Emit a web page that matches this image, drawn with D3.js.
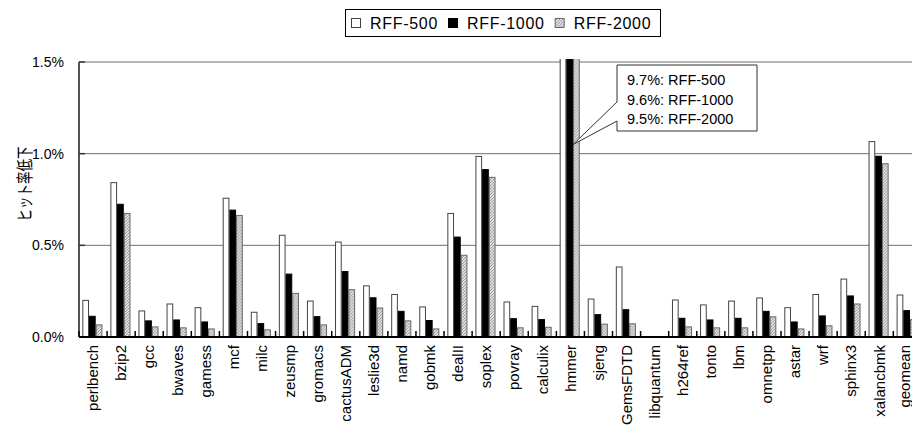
<!DOCTYPE html>
<html>
<head>
<meta charset="utf-8">
<script src="https://cdn.jsdelivr.net/npm/d3@7"></script>
<style>
  body { margin: 0; background: #fff; }
  text { font-family: "Liberation Sans", Arial, sans-serif; fill: #000; }
</style>
</head>
<body>
<div id="chart"></div>
<script>
const width = 912;
const height = 433;

// Data (percent).
const categories = ["perlbench", "bzip2", "gcc", "bwaves", "gamess", "mcf", "milc", "zeusmp",
  "gromacs", "cactusADM", "leslie3d", "namd", "gobmk", "dealII", "soplex", "povray", "calculix",
  "hmmer", "sjeng", "GemsFDTD", "libquantum", "h264ref", "tonto", "lbm", "omnetpp", "astar",
  "wrf", "sphinx3", "xalancbmk", "geomean"];
const seriesNames = ["RFF-500", "RFF-1000", "RFF-2000"];
const rff500 = [0.200, 0.842, 0.142, 0.180, 0.160, 0.757, 0.135, 0.555, 0.196, 0.518, 0.279, 0.232,
  0.164, 0.674, 0.985, 0.191, 0.167, 9.7, 0.207, 0.382, 0, 0.202, 0.175, 0.196, 0.213, 0.160,
  0.232, 0.316, 1.066, 0.229];
const rff1000 = [0.113, 0.724, 0.088, 0.093, 0.082, 0.692, 0.073, 0.343, 0.111, 0.357, 0.214, 0.140,
  0.090, 0.545, 0.913, 0.100, 0.095, 9.6, 0.122, 0.149, 0, 0.102, 0.093, 0.102, 0.140, 0.082,
  0.115, 0.224, 0.986, 0.144];
const rff2000 = [0.066, 0.674, 0.055, 0.050, 0.044, 0.663, 0.039, 0.238, 0.066, 0.258, 0.158, 0.088,
  0.044, 0.446, 0.871, 0.050, 0.053, 9.5, 0.070, 0.072, 0, 0.055, 0.050, 0.050, 0.110, 0.044,
  0.061, 0.180, 0.945, 0.095];
const yTicks = [0, 0.5, 1.0, 1.5];
const calloutLines = ["9.7%: RFF-500", "9.6%: RFF-1000", "9.5%: RFF-2000"];
const yLabel = "ヒット率低下";

const allSeries = [rff500, rff1000, rff2000];
const rows = categories.map((c, i) => ({
  name: c,
  values: seriesNames.map((s, j) => ({ key: s, value: allSeries[j][i] }))
}));

// Layout.
const plotLeft = 79, plotTop = 62, plotBottom = 337;
const step = 28.08;

const x = d3.scaleBand()
  .domain(categories)
  .range([plotLeft, plotLeft + step * categories.length])
  .padding(0);

const xInner = d3.scaleBand()
  .domain(seriesNames)
  .range([3.3, 23.4]);

const y = d3.scaleLinear()
  .domain([0, 1.5])
  .range([plotBottom, plotTop]);

const svg = d3.select("#chart")
  .append("svg")
  .attr("width", width)
  .attr("height", height);

const defs = svg.append("defs");
const pat = defs.append("pattern")
  .attr("id", "hatch")
  .attr("patternUnits", "userSpaceOnUse")
  .attr("width", 3)
  .attr("height", 3);
pat.append("rect").attr("width", 3).attr("height", 3).attr("fill", "#e0e0e0");
pat.append("path").attr("d", "M0,3 L3,0").attr("stroke", "#999").attr("stroke-width", 1);

defs.append("clipPath").attr("id", "plotclip")
  .append("rect")
  .attr("x", plotLeft).attr("y", plotTop - 3)
  .attr("width", width).attr("height", plotBottom - plotTop + 3);

const fills = { "RFF-500": "#fff", "RFF-1000": "#000", "RFF-2000": "url(#hatch)" };
const strokes = { "RFF-500": "#444", "RFF-1000": "#000", "RFF-2000": "#666" };

// Grid lines.
svg.append("g")
  .selectAll("line")
  .data(yTicks.filter(d => d > 0))
  .join("line")
  .attr("x1", plotLeft).attr("x2", width)
  .attr("y1", d => y(d)).attr("y2", d => y(d))
  .attr("stroke", "#707070")
  .attr("stroke-width", 1);

// Bars.
svg.append("g")
  .attr("clip-path", "url(#plotclip)")
  .selectAll("g")
  .data(rows)
  .join("g")
  .attr("transform", d => `translate(${x(d.name)},0)`)
  .selectAll("rect")
  .data(d => d.values.filter(v => v.value > 0))
  .join("rect")
  .attr("x", d => xInner(d.key) + 0.5)
  .attr("width", xInner.bandwidth() - 1)
  .attr("y", d => Math.max(y(d.value), plotTop - 4))
  .attr("height", d => plotBottom - Math.max(y(d.value), plotTop - 4))
  .attr("fill", d => fills[d.key])
  .attr("stroke", d => strokes[d.key])
  .attr("stroke-width", 1);

// Y axis.
svg.append("line")
  .attr("x1", plotLeft).attr("x2", plotLeft)
  .attr("y1", plotTop).attr("y2", plotBottom)
  .attr("stroke", "#555").attr("stroke-width", 2);

svg.append("g")
  .selectAll("line")
  .data(yTicks)
  .join("line")
  .attr("x1", plotLeft).attr("x2", plotLeft + 6)
  .attr("y1", d => y(d)).attr("y2", d => y(d))
  .attr("stroke", "#333").attr("stroke-width", 1.5);

svg.append("g")
  .selectAll("text")
  .data(yTicks)
  .join("text")
  .attr("x", 64)
  .attr("y", d => y(d))
  .attr("dy", "0.36em")
  .attr("text-anchor", "end")
  .style("font-size", "14px")
  .text(d => d.toFixed(1) + "%");

svg.append("text")
  .attr("transform", "translate(23,184) rotate(-90) scale(1,1.4)")
  .attr("text-anchor", "middle")
  .attr("dominant-baseline", "central")
  .style("font-family", "'Noto Sans CJK JP', sans-serif")
  .style("font-size", "12.5px")
  .text(yLabel);

// X axis.
svg.append("line")
  .attr("x1", plotLeft).attr("x2", width)
  .attr("y1", plotBottom).attr("y2", plotBottom)
  .attr("stroke", "#000").attr("stroke-width", 2);

svg.append("g")
  .selectAll("line")
  .data(categories)
  .join("line")
  .attr("x1", d => x(d)).attr("x2", d => x(d))
  .attr("y1", plotBottom - 6).attr("y2", plotBottom)
  .attr("stroke", "#000").attr("stroke-width", 1.5);

svg.append("g")
  .selectAll("text")
  .data(categories)
  .join("text")
  .attr("transform", d => `translate(${Math.min(x(d) + x.bandwidth() / 2, width - 7)},345) rotate(-90)`)
  .attr("dy", "0.35em")
  .attr("text-anchor", "end")
  .style("font-size", "15px")
  .text(d => d);

// Callout for hmmer.
const tipX = x("hmmer") + xInner("RFF-2000");
const tipY = y(1.05);
const bx0 = 617, by0 = 65, bx1 = 757, by1 = 131;
svg.append("path")
  .attr("d", `M${bx0},${by0} H${bx1} V${by1} H${bx0} V${by0 + 56} L${tipX},${tipY} L${bx0},${by0 + 37} Z`)
  .attr("fill", "#fff")
  .attr("stroke", "#333")
  .attr("stroke-width", 1);

svg.append("g")
  .selectAll("text")
  .data(calloutLines)
  .join("text")
  .attr("x", bx0 + 10)
  .attr("y", (d, i) => by0 + 20 + i * 19.5)
  .style("font-size", "14.5px")
  .text(d => d);

// Legend.
const legend = svg.append("g");
legend.append("rect")
  .attr("x", 345.5).attr("y", 9.5)
  .attr("width", 315).attr("height", 27)
  .attr("fill", "#fff").attr("stroke", "#000");

let lx = 351;
seriesNames.forEach(s => {
  legend.append("rect")
    .attr("x", lx + 0.5).attr("y", 18.5)
    .attr("width", 9).attr("height", 9)
    .attr("fill", fills[s]).attr("stroke", strokes[s]);
  const t = legend.append("text")
    .attr("x", lx + 19).attr("y", 29)
    .style("font-size", "16px")
    .style("letter-spacing", "0.7px")
    .text(s);
  lx += 19 + t.node().getComputedTextLength() + 10;
});
</script>
</body>
</html>
